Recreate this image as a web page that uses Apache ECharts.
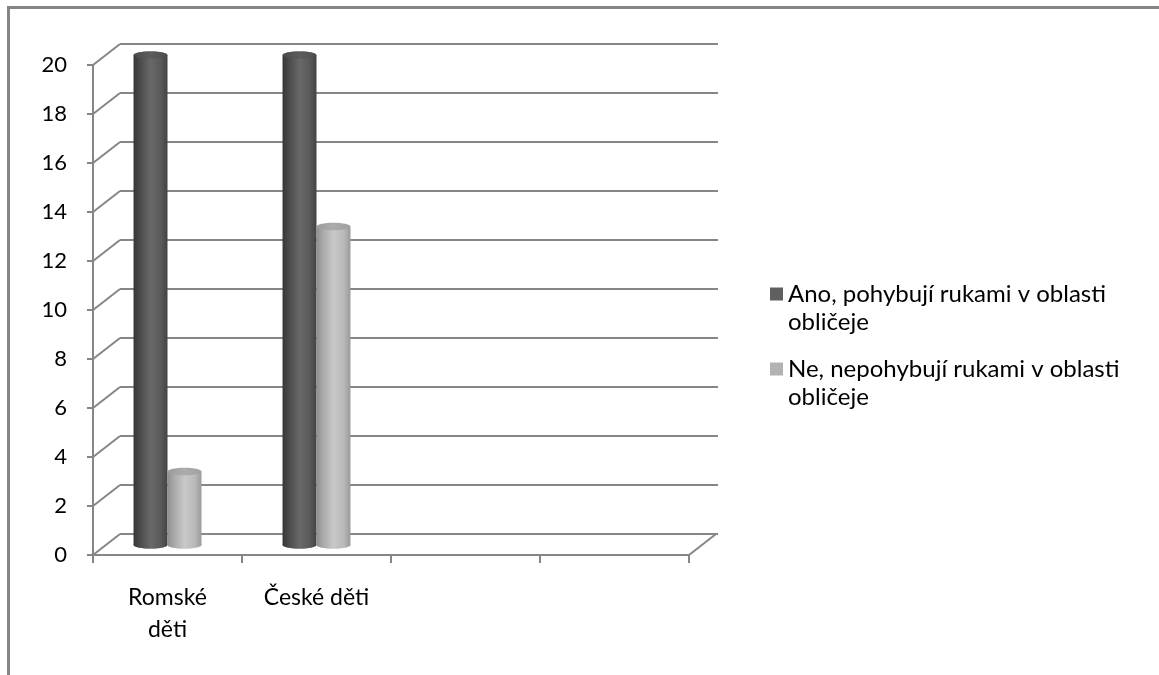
<!DOCTYPE html>
<html>
<head>
<meta charset="utf-8">
<script src="https://cdn.jsdelivr.net/npm/echarts@6/dist/echarts.min.js"></script>
<style>
  html, body { margin: 0; padding: 0; background: #ffffff; }
  #chart { width: 1159px; height: 675px; }
</style>
</head>
<body>
<div id="chart"></div>
<script>
// Category labels (the last two slots of the axis are empty)
const categories = ['Romské\nděti', 'České děti', '', ''];
const seriesNames = [
  'Ano, pohybují rukami v oblasti obličeje',
  'Ne, nepohybují rukami v oblasti obličeje'
];
const yesValues = [20, 20, null, null];
const noValues = [3, 13, null, null];
const yTicks = [0, 2, 4, 6, 8, 10, 12, 14, 16, 18, 20];

const FONT = 'Lato, "Liberation Sans", sans-serif';
const LINE = '#868686';
// offset of the back wall relative to the front edge of the floor
const DEPTH = [27, -21];

const chart = echarts.init(document.getElementById('chart'), null, { renderer: 'canvas' });

const toItems = vals => vals.map((v, i) => [i, v]).filter(d => d[1] != null);

function cylinder(side, colors) {
  return function (params, api) {
    const cat = api.value(0);
    const v = api.value(1);
    const top = api.coord([cat, v]);
    const base = api.coord([cat, 0]);
    const band = api.size([1, 0])[0];
    const bw = band * 0.228;
    const cx = top[0] + side * bw / 2;
    const rx = bw / 2;
    const ry = bw * 0.11;
    const body = new echarts.graphic.LinearGradient(0, 0, 1, 0, colors.body);
    return {
      type: 'group',
      children: [
        { type: 'ellipse', shape: { cx: cx, cy: base[1], rx: rx, ry: ry }, style: { fill: body } },
        { type: 'rect', shape: { x: cx - rx, y: top[1], width: bw, height: base[1] - top[1] }, style: { fill: body } },
        { type: 'ellipse', shape: { cx: cx, cy: top[1], rx: rx, ry: ry },
          style: { fill: new echarts.graphic.LinearGradient(0, 0, 1, 0, colors.top) } }
      ]
    };
  };
}

const darkColors = {
  body: [
    { offset: 0, color: '#363636' }, { offset: 0.18, color: '#4a4a4a' },
    { offset: 0.5, color: '#686868' }, { offset: 0.8, color: '#5a5a5a' },
    { offset: 1, color: '#434343' }
  ],
  top: [ { offset: 0, color: '#4a4a4a' }, { offset: 0.5, color: '#5c5c5c' }, { offset: 1, color: '#4e4e4e' } ]
};
const lightColors = {
  body: [
    { offset: 0, color: '#8e8e8e' }, { offset: 0.18, color: '#a8a8a8' },
    { offset: 0.5, color: '#c8c8c8' }, { offset: 0.8, color: '#bababa' },
    { offset: 1, color: '#9a9a9a' }
  ],
  top: [ { offset: 0, color: '#9c9c9c' }, { offset: 0.5, color: '#acacac' }, { offset: 1, color: '#a0a0a0' } ]
};

// legend text wraps before the last word; a leading blank line keeps
// the first text line level with the colour square
const legendText = name => {
  const i = name.lastIndexOf(' ');
  return '\n' + name.slice(0, i) + '\n' + name.slice(i + 1);
};
const legendBase = {
  orient: 'vertical',
  left: 770,
  padding: 0,
  itemWidth: 13,
  itemHeight: 13,
  icon: 'rect',
  selectedMode: false,
  formatter: legendText,
  textStyle: { fontFamily: FONT, fontSize: 24, color: '#000', lineHeight: 28 }
};

const option = {
  backgroundColor: '#ffffff',
  animation: false,
  graphic: [
    // outer chart frame
    { type: 'polyline', shape: { points: [[8.5, 700], [8.5, 7.5], [1170, 7.5]] },
      style: { stroke: LINE, lineWidth: 3, fill: null }, silent: true }
  ],
  legend: [
    Object.assign({}, legendBase, { top: 252, data: [seriesNames[0]] }),
    Object.assign({}, legendBase, { top: 327, data: [seriesNames[1]] })
  ],
  grid: [
    { left: 93, top: 65, width: 596, height: 490 },   // front edge: axes
    { left: 93, top: 55, width: 596, height: 490 },   // bars at mid depth
    { left: 120, top: 44, width: 598, height: 490 }   // back wall
  ],
  xAxis: [
    {
      gridIndex: 0, type: 'category', data: categories, boundaryGap: true,
      axisLine: { lineStyle: { color: LINE, width: 2 } },
      axisTick: { show: true, length: 8, lineStyle: { color: LINE, width: 2 } },
      axisLabel: { interval: 0, fontFamily: FONT, fontSize: 23, color: '#000', margin: 27, lineHeight: 32 },
      splitLine: { show: false }
    },
    { gridIndex: 1, type: 'category', data: categories, show: false },
    { gridIndex: 2, type: 'category', data: categories, show: false }
  ],
  yAxis: [
    {
      gridIndex: 0, type: 'value', min: 0, max: 20, interval: 2,
      axisLine: { show: true, lineStyle: { color: LINE, width: 2 } },
      axisTick: { show: true, length: 6, lineStyle: { color: LINE, width: 2 } },
      axisLabel: { fontFamily: FONT, fontSize: 22, color: '#000', margin: 26 },
      splitLine: { show: false }
    },
    { gridIndex: 1, type: 'value', min: 0, max: 20, interval: 2, show: false },
    {
      gridIndex: 2, type: 'value', min: 0, max: 20, interval: 2,
      axisLine: { show: false }, axisTick: { show: false }, axisLabel: { show: false },
      splitLine: { show: true, lineStyle: { color: LINE, width: 2 } }
    }
  ],
  series: [
    {
      // side-wall gridlines (left) and the floor's right edge
      type: 'custom', xAxisIndex: 0, yAxisIndex: 0, silent: true, clip: false, z: 1,
      data: yTicks.map(v => [0, v, 0]).concat([[0, 0, 1]]),
      encode: { x: 0, y: 1 },
      renderItem: function (params, api) {
        const right = api.value(2) === 1;
        const band = api.size([1, 0])[0];
        const p = api.coord([0, api.value(1)]);
        const x = p[0] - band / 2 + (right ? band * categories.length : 0);
        return {
          type: 'line',
          shape: { x1: x, y1: p[1], x2: x + DEPTH[0], y2: p[1] + DEPTH[1] },
          style: { stroke: LINE, lineWidth: 2 }
        };
      }
    },
    {
      name: seriesNames[0], type: 'custom', xAxisIndex: 1, yAxisIndex: 1, z: 3,
      itemStyle: { color: '#5f5f5f' },
      data: toItems(yesValues), encode: { x: 0, y: 1 },
      renderItem: cylinder(-1, darkColors)
    },
    {
      name: seriesNames[1], type: 'custom', xAxisIndex: 1, yAxisIndex: 1, z: 3,
      itemStyle: { color: '#b2b2b2' },
      data: toItems(noValues), encode: { x: 0, y: 1 },
      renderItem: cylinder(1, lightColors)
    }
  ]
};

chart.setOption(option);
</script>
</body>
</html>
